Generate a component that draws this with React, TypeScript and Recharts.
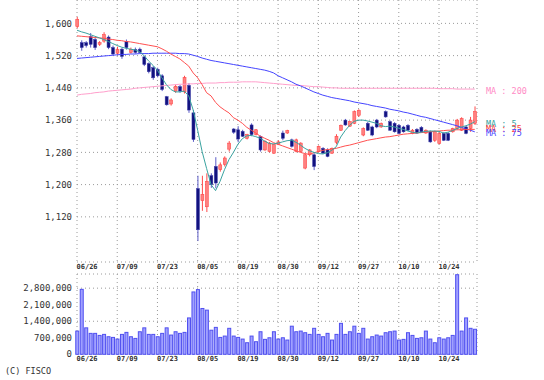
import React from 'react';
import { ComposedChart, Bar, Line, XAxis, YAxis, CartesianGrid } from 'recharts';

// trading days, every 9th one is labelled
const dateLabels = ['06/26', '07/09', '07/23', '08/05', '08/19', '08/30', '09/12', '09/27', '10/10', '10/24'];
const labelIdx = [0, 9, 18, 27, 36, 45, 54, 63, 72, 81];

const priceTicks = [1120, 1200, 1280, 1360, 1440, 1520, 1600];
const volTicks = [0, 700000, 1400000, 2100000, 2800000];

const open = [1592, 1552, 1552, 1567, 1560, 1548, 1556, 1566, 1540, 1526,
  1536, 1555, 1528, 1535, 1536, 1517, 1500, 1490, 1486, 1470,
  1418, 1400, 1432, 1443, 1430, 1446, 1378, 1190, 1160, 1145,
  1222, 1245, 1237, 1250, 1288, 1338, 1336, 1332, 1315, 1348,
  1324, 1319, 1286, 1282, 1278, 1300, 1328, 1328, 1311, 1282,
  1282, 1241, 1274, 1274, 1282, 1290, 1286, 1278, 1305, 1335,
  1360, 1345, 1352, 1372, 1323, 1352, 1343, 1360, 1343, 1381,
  1356, 1352, 1347, 1343, 1347, 1327, 1337, 1342, 1328, 1331,
  1310, 1302, 1327, 1327, 1331, 1339, 1335, 1343, 1339, 1352];
const high = [1616, 1558, 1556, 1576, 1565, 1556, 1578, 1570, 1545, 1542,
  1540, 1560, 1540, 1540, 1540, 1520, 1503, 1494, 1490, 1474,
  1420, 1414, 1448, 1447, 1470, 1452, 1385, 1222, 1222, 1228,
  1228, 1268, 1255, 1270, 1308, 1340, 1345, 1336, 1326, 1352,
  1338, 1322, 1310, 1306, 1302, 1310, 1334, 1336, 1314, 1314,
  1305, 1276, 1288, 1278, 1297, 1293, 1290, 1292, 1325, 1349,
  1363, 1358, 1384, 1387, 1342, 1356, 1346, 1363, 1354, 1384,
  1359, 1355, 1350, 1346, 1350, 1338, 1340, 1345, 1337, 1334,
  1334, 1330, 1330, 1330, 1341, 1363, 1367, 1346, 1368, 1394];
const low = [1588, 1532, 1540, 1540, 1534, 1544, 1552, 1536, 1520, 1522,
  1512, 1535, 1525, 1525, 1525, 1494, 1476, 1460, 1466, 1432,
  1396, 1396, 1428, 1428, 1426, 1378, 1306, 1060, 1135, 1132,
  1192, 1191, 1232, 1245, 1282, 1326, 1305, 1318, 1312, 1320,
  1322, 1282, 1284, 1280, 1276, 1298, 1310, 1326, 1292, 1280,
  1280, 1238, 1270, 1236, 1280, 1276, 1268, 1276, 1300, 1333,
  1346, 1343, 1350, 1368, 1320, 1333, 1320, 1340, 1341, 1366,
  1333, 1329, 1325, 1329, 1333, 1325, 1326, 1329, 1326, 1304,
  1306, 1300, 1308, 1308, 1329, 1336, 1333, 1325, 1331, 1348];
const close = [1610, 1540, 1545, 1548, 1540, 1552, 1572, 1540, 1524, 1535,
  1518, 1540, 1535, 1528, 1528, 1498, 1480, 1465, 1470, 1436,
  1398, 1410, 1444, 1432, 1466, 1385, 1312, 1088, 1176, 1208,
  1200, 1204, 1249, 1266, 1303, 1330, 1313, 1320, 1324, 1324,
  1336, 1286, 1307, 1303, 1299, 1306, 1315, 1334, 1295, 1311,
  1303, 1274, 1286, 1245, 1295, 1278, 1270, 1290, 1320, 1347,
  1348, 1356, 1381, 1384, 1339, 1335, 1323, 1343, 1352, 1368,
  1335, 1331, 1327, 1331, 1335, 1335, 1328, 1331, 1335, 1306,
  1331, 1327, 1310, 1310, 1339, 1360, 1364, 1327, 1360, 1381];

// volume in thousands of shares
const volume = [983, 2750, 1120, 886, 886, 800, 843, 744, 715, 645,
  843, 928, 744, 673, 955, 1120, 843, 843, 744, 886,
  1120, 815, 955, 886, 928, 1540, 2640, 2740, 1940, 1870,
  1020, 1140, 715, 772, 1100, 772, 715, 645, 490, 772,
  533, 955, 632, 700, 955, 645, 700, 603, 1190, 955,
  983, 914, 843, 1100, 843, 744, 886, 603, 843, 1310,
  843, 955, 1190, 886, 1100, 645, 744, 815, 772, 914,
  955, 983, 603, 632, 914, 800, 673, 700, 983, 645,
  490, 700, 645, 700, 800, 3370, 983, 1540, 1100, 1060];

const ma5 = [1583, 1579, 1576, 1572, 1568, 1564, 1560, 1555, 1550, 1545,
  1541, 1538, 1536, 1534, 1530, 1520, 1507, 1496, 1484, 1465,
  1448, 1436, 1430, 1430, 1432, 1420, 1385, 1335, 1282, 1240,
  1200, 1185, 1208, 1237, 1262, 1280, 1300, 1314, 1321, 1322,
  1319, 1315, 1308, 1302, 1301, 1303, 1306, 1309, 1310, 1305,
  1298, 1290, 1284, 1280, 1277, 1276, 1279, 1285, 1294, 1318,
  1334, 1347, 1357, 1360, 1360, 1358, 1355, 1352, 1346, 1344,
  1345, 1343, 1340, 1337, 1333, 1330, 1328, 1330, 1332, 1333,
  1333, 1332, 1328, 1330, 1334, 1339, 1343, 1346, 1350, 1356];
const ma25 = [1569, 1568, 1567, 1566, 1565, 1564, 1563, 1561, 1560, 1558,
  1557, 1555, 1554, 1552, 1550, 1548, 1546, 1544, 1542, 1537,
  1531, 1524, 1518, 1512, 1503, 1494, 1477, 1465, 1448, 1428,
  1420, 1404, 1393, 1385, 1378, 1366, 1360, 1352, 1342, 1335,
  1328, 1320, 1315, 1310, 1304, 1300, 1296, 1292, 1288, 1284,
  1280, 1277, 1275, 1279, 1282, 1285, 1287, 1288, 1290, 1293,
  1296, 1298, 1301, 1304, 1307, 1310, 1312, 1314, 1316, 1318,
  1319, 1321, 1323, 1325, 1326, 1327, 1328, 1329, 1330, 1331,
  1332, 1333, 1334, 1335, 1335, 1336, 1336, 1337, 1337, 1337];
const ma75 = [1513, 1514, 1515, 1516, 1517, 1518, 1519, 1520, 1521, 1522,
  1523, 1523, 1524, 1524, 1525, 1525, 1525, 1526, 1526, 1526,
  1526, 1526, 1526, 1525, 1525, 1524, 1521, 1518, 1514, 1511,
  1508, 1506, 1504, 1502, 1500, 1498, 1496, 1494, 1492, 1490,
  1488, 1486, 1484, 1481, 1477, 1470, 1465, 1460, 1455, 1449,
  1445, 1440, 1435, 1430, 1426, 1422, 1419, 1416, 1414, 1412,
  1410, 1408, 1405, 1403, 1401, 1399, 1396, 1394, 1392, 1390,
  1387, 1385, 1383, 1380, 1378, 1375, 1372, 1369, 1367, 1364,
  1361, 1358, 1355, 1352, 1349, 1346, 1342, 1338, 1335, 1331];
const ma200 = [1422, 1424, 1425, 1426, 1428, 1429, 1430, 1432, 1433, 1434,
  1435, 1436, 1437, 1439, 1440, 1441, 1442, 1443, 1444, 1445,
  1446, 1447, 1448, 1449, 1449, 1450, 1450, 1451, 1451, 1452,
  1452, 1452, 1453, 1453, 1454, 1454, 1454, 1455, 1455, 1455,
  1455, 1454, 1453, 1452, 1451, 1450, 1449, 1448, 1447, 1446,
  1446, 1445, 1444, 1443, 1443, 1442, 1441, 1440, 1440, 1439,
  1439, 1439, 1439, 1439, 1439, 1439, 1439, 1439, 1439, 1439,
  1439, 1439, 1439, 1439, 1439, 1439, 1439, 1439, 1439, 1439,
  1439, 1438, 1438, 1438, 1438, 1437, 1437, 1437, 1437, 1437];

const data = open.map((o, i) => ({
  i,
  open: o,
  high: high[i],
  low: low[i],
  close: close[i],
  range: [low[i], high[i]],
  vol: volume[i] * 1000,
  ma5: ma5[i],
  ma25: ma25[i],
  ma75: ma75[i],
  ma200: ma200[i],
}));

const mono = '"DejaVu Sans Mono", monospace';
const tickStyle = { fontSize: 9, fontFamily: mono, fill: '#333' };

const Candle = (props: any) => {
  const { x, y, width, height, payload } = props;
  const top = Math.min(y, y + height);
  const h = Math.abs(height);
  const k = h / (payload.high - payload.low || 1);
  const yOf = (v: number) => top + (payload.high - v) * k;
  const up = payload.close >= payload.open;
  const cx = x + width / 2;
  const b1 = yOf(Math.max(payload.open, payload.close));
  const b2 = yOf(Math.min(payload.open, payload.close));
  return (
    <g>
      <line x1={cx} x2={cx} y1={top} y2={top + h} stroke={up ? '#ff4a4a' : '#5c5cc8'} strokeWidth={1} />
      <rect x={cx - 1.5} y={b1} width={3} height={Math.max(1, b2 - b1)}
        fill={up ? '#ff8080' : '#12127f'} stroke={up ? '#ff3c3c' : '#3a3aa8'} strokeWidth={0.5} />
    </g>
  );
};

const VolBar = (props: any) => {
  const { x, y, width, height } = props;
  const cx = x + width / 2;
  return <rect x={cx - 1.5} y={y} width={3} height={height} fill="#a0a0ff" stroke="#5050f0" strokeWidth={1} />;
};

const dateTick = (row: number) => (props: any) => {
  const { x, payload } = props;
  const k = labelIdx.indexOf(payload.value);
  return (
    <text x={x - 0.5} y={row} dominantBaseline="central" textAnchor="start"
      style={{ fontSize: 7, fontWeight: 'bold', fontFamily: mono, fill: '#333' }}>
      {dateLabels[k]}
    </text>
  );
};

const maLabels = [
  { text: 'MA : 200', color: '#ff8cc6', y: 91 },
  { text: 'MA : 5', color: '#3aa3a0', y: 124 },
  { text: 'MA : 25', color: '#ff4040', y: 129 },
  { text: 'MA : 75', color: '#4848ff', y: 133 },
];

export default function App() {
  const layer: React.CSSProperties = { position: 'absolute', left: 0, top: 0 };
  return (
    <div style={{ position: 'fixed', left: 0, top: 0, width: 544, height: 380, background: '#fff' }}>
      <div style={layer}>
        <ComposedChart width={544} height={272} data={data} margin={{ top: 0, right: 67, bottom: 0, left: 0 }}>
          <CartesianGrid stroke="#9a9a9a" strokeDasharray="1 3" />
          <XAxis dataKey="i" type="number" domain={[0, 89.5]} ticks={labelIdx}
            interval={0} height={10} axisLine={false} tickLine={false} tick={dateTick(267)} />
          <YAxis domain={[1008, 1658]} ticks={priceTicks} width={77}
            axisLine={false} tickLine={false} tickSize={0} tickMargin={5}
            tickFormatter={(v: number) => v.toLocaleString('en-US')} tick={tickStyle} />
          <Bar dataKey="range" barSize={3} shape={Candle} isAnimationActive={false} />
          <Line dataKey="ma200" stroke="#ff9fcc" strokeWidth={1} dot={false} type="linear" isAnimationActive={false} />
          <Line dataKey="ma75" stroke="#4444ff" strokeWidth={1} dot={false} type="linear" isAnimationActive={false} />
          <Line dataKey="ma25" stroke="#ff5050" strokeWidth={1} dot={false} type="linear" isAnimationActive={false} />
          <Line dataKey="ma5" stroke="#3aa3a0" strokeWidth={1} dot={false} type="linear" isAnimationActive={false} />
        </ComposedChart>
      </div>
      <div style={layer}>
        <ComposedChart width={544} height={380} data={data} margin={{ top: 274, right: 67, bottom: 0, left: 0 }}>
          <CartesianGrid stroke="#9a9a9a" strokeDasharray="1 3" />
          <XAxis dataKey="i" type="number" domain={[0, 89.5]} ticks={labelIdx}
            interval={0} height={25.7} axisLine={false} tickLine={false} tick={dateTick(359)} />
          <YAxis domain={[0, 3400000]} ticks={volTicks} width={77}
            axisLine={false} tickLine={false} tickSize={0} tickMargin={5}
            tickFormatter={(v: number) => v.toLocaleString('en-US')} tick={tickStyle} />
          <Bar dataKey="vol" barSize={3} shape={VolBar} isAnimationActive={false} />
        </ComposedChart>
      </div>
      {maLabels.map((m) => (
        <div key={m.text} style={{ position: 'absolute', left: 486, top: m.y - 5, fontSize: 8.5, lineHeight: '10px',
          fontFamily: mono, color: m.color, whiteSpace: 'pre' }}>{m.text}</div>
      ))}
      <div style={{ position: 'absolute', left: 5, top: 366, fontSize: 8.5, lineHeight: '11px', fontFamily: mono, color: '#333' }}>
        (C) FISCO
      </div>
    </div>
  );
}
